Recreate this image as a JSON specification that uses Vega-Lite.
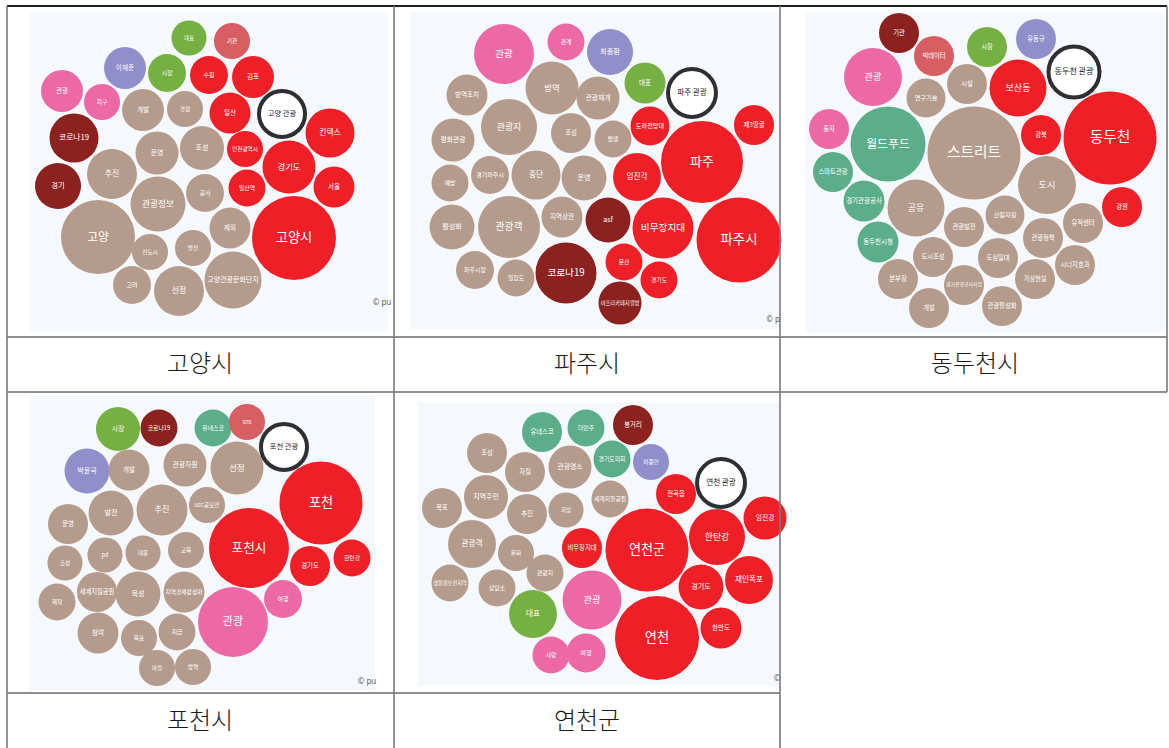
{
  "$schema": "https://vega.github.io/schema/vega-lite/v6.json",
  "width": 1169,
  "height": 748,
  "padding": 0,
  "autosize": {"type": "none"},
  "background": "white",
  "config": {"view": {"stroke": null}, "text": {"font": "Noto Sans CJK KR"}},
  "datasets": {
    "panels": [
      {"x": 30, "x2": 388, "y": 12, "y2": 332},
      {"x": 410, "x2": 779, "y": 12, "y2": 329},
      {"x": 805, "x2": 1165, "y": 12, "y2": 333},
      {"x": 30, "x2": 375, "y": 396, "y2": 691},
      {"x": 418, "x2": 780, "y": 402, "y2": 686}
    ],
    "lines": [
      {"x": 7, "x2": 1167, "y": 6, "y2": 6},
      {"x": 7, "x2": 1167, "y": 337, "y2": 337},
      {"x": 7, "x2": 1167, "y": 392, "y2": 392},
      {"x": 7, "x2": 780, "y": 693, "y2": 693},
      {"x": 7, "x2": 7, "y": 6, "y2": 748},
      {"x": 394, "x2": 394, "y": 6, "y2": 748},
      {"x": 780, "x2": 780, "y": 6, "y2": 748},
      {"x": 1167, "x2": 1167, "y": 6, "y2": 392}
    ],
    "captions": [
      {"x": 200, "y": 365, "label": "고양시"},
      {"x": 587, "y": 365, "label": "파주시"},
      {"x": 975, "y": 365, "label": "동두천시"},
      {"x": 200, "y": 722, "label": "포천시"},
      {"x": 587, "y": 722, "label": "연천군"}
    ],
    "credits": [
      {"x": 382, "y": 303, "label": "© pu"},
      {"x": 773, "y": 320, "label": "© p"},
      {"x": 367, "y": 682, "label": "© pu"},
      {"x": 777, "y": 679, "label": "©"}
    ],
    "bubbles": [
      {"x": 189, "y": 38, "n": 123, "c": "green", "label": "대표"},
      {"x": 125, "y": 68, "n": 176, "c": "purple", "label": "이재준"},
      {"x": 167, "y": 73, "n": 144, "c": "green", "label": "시장"},
      {"x": 62, "y": 91, "n": 176, "c": "pink", "label": "관광"},
      {"x": 102, "y": 102, "n": 130, "c": "pink", "label": "지구"},
      {"x": 143, "y": 110, "n": 176, "c": "tan", "label": "개발"},
      {"x": 185, "y": 109, "n": 130, "c": "tan", "label": "경정"},
      {"x": 74, "y": 138, "n": 240, "c": "maroon", "label": "코로나19"},
      {"x": 157, "y": 153, "n": 185, "c": "tan", "label": "운영"},
      {"x": 202, "y": 148, "n": 194, "c": "tan", "label": "조성"},
      {"x": 112, "y": 174, "n": 250, "c": "tan", "label": "추진"},
      {"x": 58, "y": 186, "n": 212, "c": "maroon", "label": "경기"},
      {"x": 158, "y": 204, "n": 302, "c": "tan", "label": "관광정보"},
      {"x": 205, "y": 193, "n": 144, "c": "tan", "label": "공사"},
      {"x": 98, "y": 237, "n": 548, "c": "tan", "label": "고양"},
      {"x": 150, "y": 252, "n": 130, "c": "tan", "label": "신도시"},
      {"x": 193, "y": 248, "n": 130, "c": "tan", "label": "발전"},
      {"x": 132, "y": 285, "n": 144, "c": "tan", "label": "고려"},
      {"x": 179, "y": 291, "n": 250, "c": "tan", "label": "선정"},
      {"x": 232, "y": 41, "n": 130, "c": "rose", "label": "기관"},
      {"x": 209, "y": 75, "n": 144, "c": "red", "label": "수원"},
      {"x": 253, "y": 77, "n": 176, "c": "red", "label": "김포"},
      {"x": 230, "y": 113, "n": 168, "c": "red", "label": "일산"},
      {"x": 282, "y": 114, "n": 212, "c": "ring", "label": "고양 관광"},
      {"x": 330, "y": 133, "n": 240, "c": "red", "label": "킨텍스"},
      {"x": 245, "y": 149, "n": 130, "c": "red", "label": "인천광역시"},
      {"x": 289, "y": 167, "n": 281, "c": "red", "label": "경기도"},
      {"x": 247, "y": 188, "n": 137, "c": "red", "label": "일산역"},
      {"x": 334, "y": 187, "n": 168, "c": "red", "label": "서울"},
      {"x": 230, "y": 228, "n": 168, "c": "tan", "label": "제외"},
      {"x": 294, "y": 238, "n": 706, "c": "red", "label": "고양시"},
      {"x": 233, "y": 280, "n": 325, "c": "tan", "label": "고양관광문화단지"},

      {"x": 504, "y": 54, "n": 360, "c": "pink", "label": "관광"},
      {"x": 566, "y": 42, "n": 137, "c": "pink", "label": "관계"},
      {"x": 610, "y": 52, "n": 212, "c": "purple", "label": "최종환"},
      {"x": 467, "y": 95, "n": 168, "c": "tan", "label": "방역조치"},
      {"x": 552, "y": 88, "n": 281, "c": "tan", "label": "방역"},
      {"x": 598, "y": 98, "n": 185, "c": "tan", "label": "관광재개"},
      {"x": 645, "y": 83, "n": 168, "c": "green", "label": "대표"},
      {"x": 692, "y": 93, "n": 230, "c": "ring", "label": "파주 관광"},
      {"x": 509, "y": 127, "n": 314, "c": "tan", "label": "관광지"},
      {"x": 571, "y": 133, "n": 160, "c": "tan", "label": "조성"},
      {"x": 613, "y": 139, "n": 137, "c": "tan", "label": "발생"},
      {"x": 650, "y": 126, "n": 152, "c": "red", "label": "도라전망대"},
      {"x": 754, "y": 125, "n": 160, "c": "red", "label": "제3땅굴"},
      {"x": 453, "y": 140, "n": 185, "c": "tan", "label": "평화관광"},
      {"x": 702, "y": 162, "n": 672, "c": "red", "label": "파주"},
      {"x": 450, "y": 183, "n": 137, "c": "tan", "label": "예방"},
      {"x": 490, "y": 175, "n": 144, "c": "tan", "label": "경기파주시"},
      {"x": 536, "y": 175, "n": 240, "c": "tan", "label": "중단"},
      {"x": 584, "y": 178, "n": 202, "c": "tan", "label": "운영"},
      {"x": 637, "y": 177, "n": 230, "c": "red", "label": "임진각"},
      {"x": 452, "y": 227, "n": 202, "c": "tan", "label": "활성화"},
      {"x": 509, "y": 227, "n": 384, "c": "tan", "label": "관광객"},
      {"x": 562, "y": 217, "n": 168, "c": "tan", "label": "지역상권"},
      {"x": 608, "y": 220, "n": 202, "c": "maroon", "label": "asf"},
      {"x": 663, "y": 228, "n": 372, "c": "red", "label": "비무장지대"},
      {"x": 739, "y": 240, "n": 722, "c": "red", "label": "파주시"},
      {"x": 475, "y": 270, "n": 144, "c": "tan", "label": "파주시장"},
      {"x": 516, "y": 278, "n": 137, "c": "tan", "label": "밀집도"},
      {"x": 566, "y": 273, "n": 372, "c": "maroon", "label": "코로나19"},
      {"x": 624, "y": 262, "n": 137, "c": "red", "label": "문산"},
      {"x": 659, "y": 280, "n": 137, "c": "red", "label": "경기도"},
      {"x": 620, "y": 303, "n": 185, "c": "maroon", "label": "아프리카돼지열병"},

      {"x": 899, "y": 33, "n": 160, "c": "maroon", "label": "기관"},
      {"x": 934, "y": 56, "n": 160, "c": "rose", "label": "빅데이터"},
      {"x": 987, "y": 47, "n": 160, "c": "green", "label": "시장"},
      {"x": 1036, "y": 39, "n": 160, "c": "purple", "label": "유동규"},
      {"x": 1074, "y": 72, "n": 260, "c": "ring", "label": "동두천 관광"},
      {"x": 873, "y": 77, "n": 336, "c": "pink", "label": "관광"},
      {"x": 967, "y": 84, "n": 160, "c": "tan", "label": "시설"},
      {"x": 926, "y": 98, "n": 152, "c": "tan", "label": "연구기술"},
      {"x": 1018, "y": 88, "n": 325, "c": "red", "label": "보산동"},
      {"x": 829, "y": 129, "n": 160, "c": "pink", "label": "출자"},
      {"x": 888, "y": 144, "n": 562, "c": "teal", "label": "월드푸드"},
      {"x": 974, "y": 153, "n": 865, "c": "tan", "label": "스트리트"},
      {"x": 1041, "y": 135, "n": 160, "c": "red", "label": "강북"},
      {"x": 1110, "y": 138, "n": 865, "c": "red", "label": "동두천"},
      {"x": 833, "y": 172, "n": 160, "c": "teal", "label": "스마트관광"},
      {"x": 1047, "y": 185, "n": 336, "c": "tan", "label": "도시"},
      {"x": 864, "y": 201, "n": 168, "c": "teal", "label": "경기관광공사"},
      {"x": 916, "y": 208, "n": 325, "c": "tan", "label": "공유"},
      {"x": 1122, "y": 207, "n": 160, "c": "red", "label": "강원"},
      {"x": 964, "y": 227, "n": 160, "c": "tan", "label": "관광발전"},
      {"x": 1005, "y": 215, "n": 152, "c": "tan", "label": "산림자원"},
      {"x": 1083, "y": 223, "n": 160, "c": "tan", "label": "유적센터"},
      {"x": 878, "y": 242, "n": 168, "c": "teal", "label": "동두천시청"},
      {"x": 1043, "y": 238, "n": 160, "c": "tan", "label": "관광정책"},
      {"x": 933, "y": 257, "n": 160, "c": "tan", "label": "도시조성"},
      {"x": 998, "y": 258, "n": 160, "c": "tan", "label": "도심일대"},
      {"x": 1075, "y": 265, "n": 160, "c": "tan", "label": "시너지효과"},
      {"x": 964, "y": 285, "n": 160, "c": "tan", "label": "경기관광공사사업"},
      {"x": 898, "y": 279, "n": 160, "c": "tan", "label": "본부장"},
      {"x": 1035, "y": 279, "n": 160, "c": "tan", "label": "가상현실"},
      {"x": 929, "y": 308, "n": 160, "c": "tan", "label": "개발"},
      {"x": 1002, "y": 306, "n": 160, "c": "tan", "label": "관광활성화"},

      {"x": 118, "y": 429, "n": 194, "c": "green", "label": "시장"},
      {"x": 159, "y": 428, "n": 137, "c": "maroon", "label": "코로나19"},
      {"x": 213, "y": 428, "n": 137, "c": "teal", "label": "유네스코"},
      {"x": 247, "y": 422, "n": 130, "c": "rose", "label": "sns"},
      {"x": 284, "y": 447, "n": 212, "c": "ring", "label": "포천 관광"},
      {"x": 87, "y": 471, "n": 202, "c": "purple", "label": "박윤국"},
      {"x": 129, "y": 470, "n": 168, "c": "tan", "label": "개발"},
      {"x": 185, "y": 465, "n": 185, "c": "tan", "label": "관광자원"},
      {"x": 237, "y": 468, "n": 281, "c": "tan", "label": "선정"},
      {"x": 111, "y": 513, "n": 202, "c": "tan", "label": "발전"},
      {"x": 162, "y": 510, "n": 260, "c": "tan", "label": "추진"},
      {"x": 207, "y": 505, "n": 130, "c": "tan", "label": "ucc공모전"},
      {"x": 68, "y": 524, "n": 160, "c": "tan", "label": "운영"},
      {"x": 321, "y": 503, "n": 689, "c": "red", "label": "포천"},
      {"x": 105, "y": 555, "n": 123, "c": "tan", "label": "pd"},
      {"x": 143, "y": 553, "n": 123, "c": "tan", "label": "대응"},
      {"x": 186, "y": 550, "n": 130, "c": "tan", "label": "교육"},
      {"x": 249, "y": 548, "n": 640, "c": "red", "label": "포천시"},
      {"x": 65, "y": 563, "n": 123, "c": "tan", "label": "조성"},
      {"x": 310, "y": 566, "n": 160, "c": "red", "label": "경기도"},
      {"x": 352, "y": 558, "n": 137, "c": "red", "label": "한탄강"},
      {"x": 97, "y": 592, "n": 160, "c": "tan", "label": "세계지질공원"},
      {"x": 138, "y": 594, "n": 202, "c": "tan", "label": "육성"},
      {"x": 184, "y": 592, "n": 168, "c": "tan", "label": "지역경제활성화"},
      {"x": 57, "y": 602, "n": 137, "c": "tan", "label": "제작"},
      {"x": 283, "y": 599, "n": 144, "c": "pink", "label": "여행"},
      {"x": 233, "y": 622, "n": 490, "c": "pink", "label": "관광"},
      {"x": 98, "y": 633, "n": 168, "c": "tan", "label": "참여"},
      {"x": 139, "y": 638, "n": 130, "c": "tan", "label": "목표"},
      {"x": 177, "y": 632, "n": 137, "c": "tan", "label": "지급"},
      {"x": 157, "y": 668, "n": 130, "c": "tan", "label": "마을"},
      {"x": 193, "y": 667, "n": 130, "c": "tan", "label": "방역"},

      {"x": 542, "y": 432, "n": 160, "c": "teal", "label": "유네스코"},
      {"x": 586, "y": 428, "n": 137, "c": "teal", "label": "더민주"},
      {"x": 633, "y": 425, "n": 160, "c": "maroon", "label": "봉거리"},
      {"x": 487, "y": 453, "n": 160, "c": "tan", "label": "조성"},
      {"x": 525, "y": 472, "n": 160, "c": "tan", "label": "자질"},
      {"x": 570, "y": 467, "n": 185, "c": "tan", "label": "관광명소"},
      {"x": 612, "y": 459, "n": 137, "c": "teal", "label": "경기도의회"},
      {"x": 651, "y": 462, "n": 130, "c": "purple", "label": "이종인"},
      {"x": 721, "y": 483, "n": 230, "c": "ring", "label": "연천 관광"},
      {"x": 486, "y": 497, "n": 194, "c": "tan", "label": "지역주민"},
      {"x": 442, "y": 508, "n": 160, "c": "tan", "label": "목포"},
      {"x": 527, "y": 514, "n": 160, "c": "tan", "label": "추진"},
      {"x": 566, "y": 510, "n": 123, "c": "tan", "label": "희망"},
      {"x": 610, "y": 499, "n": 137, "c": "tan", "label": "세계지질공원"},
      {"x": 676, "y": 494, "n": 160, "c": "red", "label": "전곡읍"},
      {"x": 765, "y": 518, "n": 185, "c": "red", "label": "임진강"},
      {"x": 472, "y": 544, "n": 230, "c": "tan", "label": "관광객"},
      {"x": 516, "y": 553, "n": 130, "c": "tan", "label": "문화"},
      {"x": 582, "y": 548, "n": 160, "c": "red", "label": "비무장지대"},
      {"x": 647, "y": 550, "n": 689, "c": "red", "label": "연천군"},
      {"x": 717, "y": 537, "n": 314, "c": "red", "label": "한탄강"},
      {"x": 450, "y": 583, "n": 137, "c": "tan", "label": "생물권보전지역"},
      {"x": 545, "y": 573, "n": 137, "c": "tan", "label": "관광지"},
      {"x": 497, "y": 588, "n": 137, "c": "tan", "label": "상담소"},
      {"x": 592, "y": 600, "n": 348, "c": "pink", "label": "관광"},
      {"x": 701, "y": 587, "n": 202, "c": "red", "label": "경기도"},
      {"x": 749, "y": 580, "n": 230, "c": "red", "label": "재인폭포"},
      {"x": 533, "y": 614, "n": 230, "c": "green", "label": "대표"},
      {"x": 657, "y": 638, "n": 706, "c": "red", "label": "연천"},
      {"x": 721, "y": 628, "n": 168, "c": "red", "label": "한반도"},
      {"x": 551, "y": 655, "n": 137, "c": "pink", "label": "사랑"},
      {"x": 586, "y": 653, "n": 152, "c": "pink", "label": "여행"}
    ]
  },
  "encoding": {
    "x": {"field": "x", "type": "quantitative", "scale": {"domain": [0, 1169], "nice": false, "zero": false}, "axis": null},
    "y": {"field": "y", "type": "quantitative", "scale": {"domain": [748, 0], "nice": false, "zero": false}, "axis": null}
  },
  "layer": [
    {
      "data": {"name": "panels"},
      "mark": {"type": "rect", "fill": "#f5f8fc"},
      "encoding": {"x2": {"field": "x2"}, "y2": {"field": "y2"}}
    },
    {
      "data": {"name": "bubbles"},
      "transform": [{"filter": "datum.c !== 'ring'"}],
      "mark": {"type": "point", "shape": "circle", "filled": true, "opacity": 1, "strokeWidth": 0},
      "encoding": {
        "size": {"field": "n", "type": "quantitative", "scale": {"type": "linear", "domain": [0, 1000], "range": [0, 10000]}, "legend": null},
        "color": {"field": "c", "type": "nominal", "legend": null,
          "scale": {"domain": ["red", "maroon", "tan", "pink", "rose", "green", "purple", "teal", "ring"],
                    "range": ["#ee1f26", "#8b2220", "#b59b8c", "#ec69a5", "#d75e63", "#76b042", "#908ecb", "#5cae8b", "#ffffff"]}}
      }
    },
    {
      "data": {"name": "bubbles"},
      "transform": [{"filter": "datum.c === 'ring'"}],
      "mark": {"type": "point", "shape": "circle", "filled": true, "fill": "#ffffff", "opacity": 1, "stroke": "#2f2f33", "strokeWidth": 4, "strokeOpacity": 1},
      "encoding": {
        "size": {"field": "n", "type": "quantitative", "scale": {"type": "linear", "domain": [0, 1000], "range": [0, 10000]}, "legend": null}
      }
    },
    {
      "data": {"name": "bubbles"},
      "mark": {"type": "text", "align": "center", "baseline": "middle", "font": "Noto Sans CJK KR"},
      "encoding": {
        "text": {"field": "label"},
        "size": {"value": {"expr": "min(0.5*sqrt(datum.n), 0.98*sqrt(10*datum.n)/length(datum.label))"}},
        "color": {"condition": {"test": "datum.c === 'ring'", "value": "#222222"}, "value": "#ffffff"}
      }
    },
    {
      "data": {"name": "lines"},
      "mark": {"type": "rule"},
      "encoding": {
        "x2": {"field": "x2"},
        "y2": {"field": "y2"},
        "color": {"condition": {"test": "datum.x === datum.x2", "value": "#7a7a7a"}, "value": "#1e1e1e"},
        "strokeWidth": {"condition": [{"test": "datum.x === datum.x2", "value": 1.6}, {"test": "datum.y === 6", "value": 2}], "value": 1}
      }
    },
    {
      "data": {"name": "captions"},
      "mark": {"type": "text", "fontSize": 24, "fontWeight": 300, "font": "Noto Sans CJK KR", "color": "#1a1a1a", "align": "center", "baseline": "middle"},
      "encoding": {"text": {"field": "label"}}
    },
    {
      "data": {"name": "credits"},
      "mark": {"type": "text", "fontSize": 8, "color": "#666666", "align": "center", "baseline": "middle", "font": "Noto Sans"},
      "encoding": {"text": {"field": "label"}}
    }
  ]
}
